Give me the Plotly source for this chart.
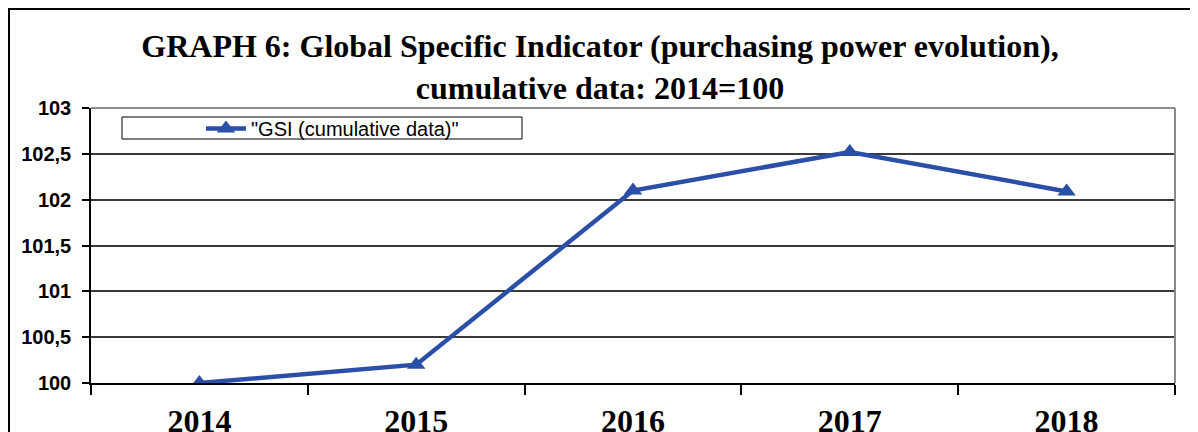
import plotly.graph_objects as go

years = ["2014", "2015", "2016", "2017", "2018"]
gsi = [100.0, 100.2, 102.1, 102.52, 102.09]
series_name = '"GSI (cumulative data)"'
y_ticks = [100, 100.5, 101, 101.5, 102, 102.5, 103]
y_tick_labels = ["100", "100,5", "101", "101,5", "102", "102,5", "103"]
title_text = ("GRAPH 6: Global Specific Indicator (purchasing power evolution),"
              "<br>cumulative data: 2014=100")

line_color = "#2B4EA6"

fig = go.Figure()
fig.add_trace(go.Scatter(
    x=years, y=gsi, name=series_name, mode="lines+markers",
    line=dict(color=line_color, width=4.5),
    marker=dict(symbol="triangle-up", size=16, color=line_color),
))

# page body has an 8px margin: figure origin sits at screen (8, 8)
OFF = 8
W, H = 1198 - OFF, 432 - OFF
SL, SR, ST, SB = 91, 1175, 108, 383  # plot area in screen pixels
L, R, T, B = SL - OFF, (OFF + W) - SR, ST - OFF, (OFF + H) - SB
pw, ph = SR - SL, SB - ST

def px(x):
    return (x - SL) / pw

def py(y):
    return (SB - y) / ph

fig.update_layout(
    width=W, height=H, autosize=False,
    margin=dict(l=L, r=R, t=T, b=B, pad=0),
    paper_bgcolor="white", plot_bgcolor="white",
    title=dict(text=title_text, x=(600 - OFF) / W, xref="container", xanchor="center",
               y=1 - 49 / H, yref="container", yanchor="top",
               font=dict(family="Liberation Serif", size=32, color="black", weight="bold")),
    showlegend=True,
    legend=dict(x=px(201), y=py(109), xanchor="left", yanchor="top",
                bgcolor="rgba(0,0,0,0)", borderwidth=0,
                font=dict(family="Liberation Sans", size=20, color="black"),
                itemwidth=40),
    xaxis=dict(type="category", tickson="boundaries", ticks="outside", ticklen=10,
               tickcolor="black", tickwidth=1.5, automargin=False,
               ticklabelstandoff=9,
               showgrid=False, showline=True, linecolor="black", linewidth=1.5,
               tickfont=dict(family="Liberation Serif", size=32, color="black", weight="bold"),
               range=[-0.5, 4.5], fixedrange=True),
    yaxis=dict(range=[100, 103], tickvals=y_ticks, ticktext=y_tick_labels,
               ticks="outside", ticklen=7, tickcolor="black", tickwidth=1.5,
               automargin=False, ticklabelstandoff=7,
               showgrid=True, gridcolor="#3a3a3a", gridwidth=1.5,
               showline=True, linecolor="black", linewidth=1.5,
               zeroline=False,
               tickfont=dict(family="Liberation Sans", size=20, color="black", weight="bold"),
               fixedrange=True),
    shapes=[
        dict(type="line", xref="paper", yref="paper", x0=0, x1=1, y0=1, y1=1,
             line=dict(color="#8a8a8a", width=2)),
        dict(type="line", xref="paper", yref="paper", x0=1, x1=1, y0=0, y1=1,
             line=dict(color="#8a8a8a", width=2)),
        dict(type="rect", xref="paper", yref="paper",
             x0=px(122), x1=px(522), y0=py(139), y1=py(117),
             line=dict(color="black", width=1), fillcolor="rgba(0,0,0,0)"),
        dict(type="rect", xref="paper", yref="paper",
             x0=px(OFF + 1), x1=px(1215), y0=py(445), y1=py(OFF + 1),
             line=dict(color="black", width=2), fillcolor="rgba(0,0,0,0)"),
    ],
)

fig.write_html("out.html")
